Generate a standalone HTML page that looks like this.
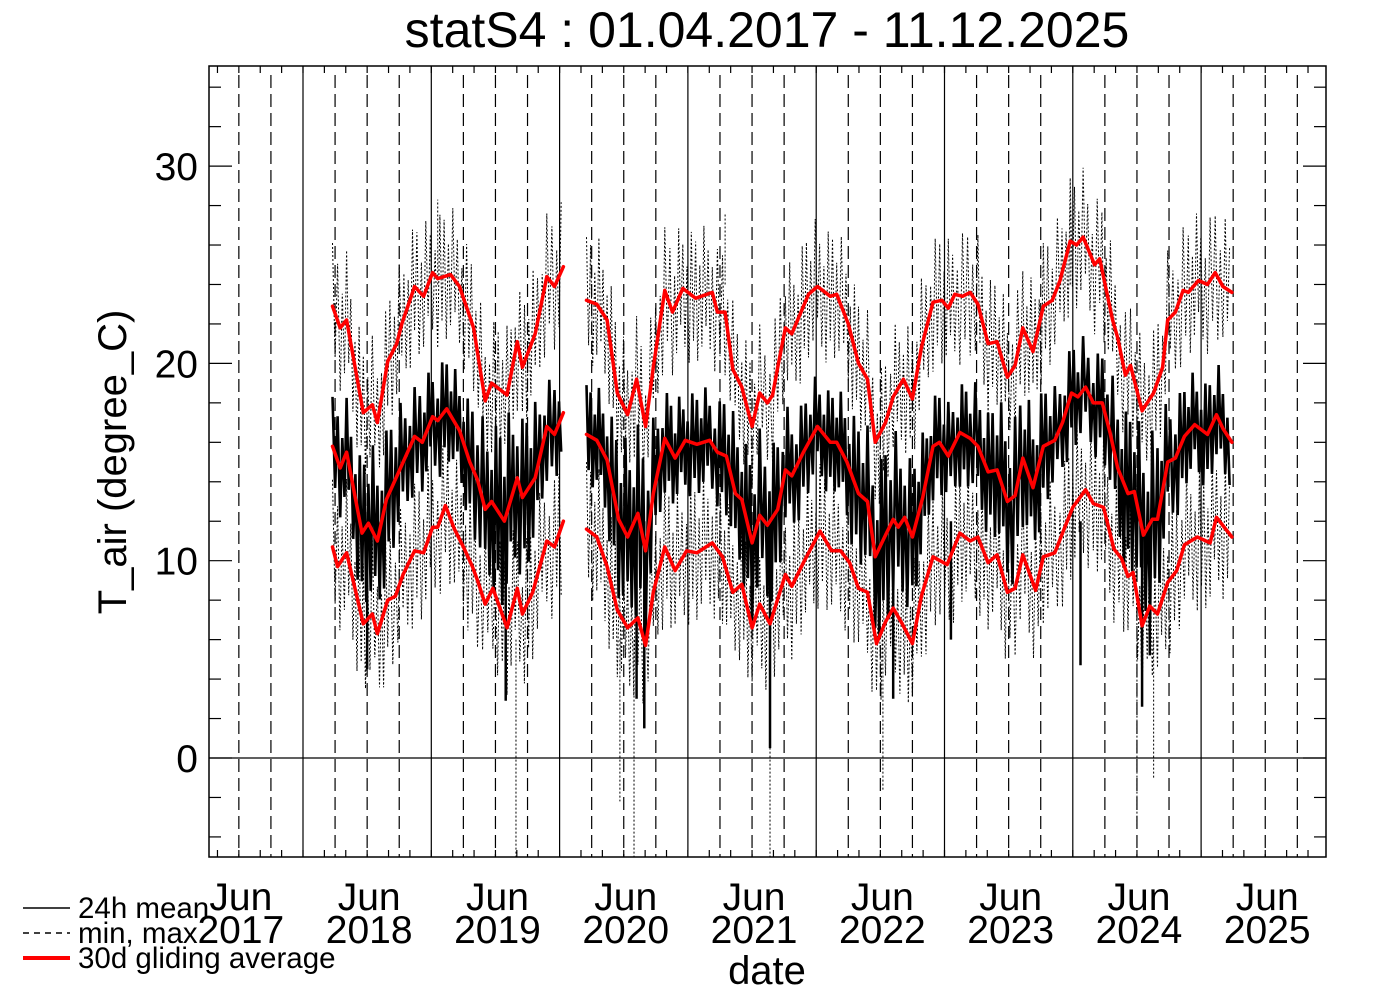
<!DOCTYPE html>
<html><head><meta charset="utf-8"><style>
html,body{margin:0;padding:0;background:#fff;}
svg{display:block;font-family:"Liberation Sans",sans-serif;}
</style></head><body>
<svg id="chart" width="1388" height="992" viewBox="0 0 1388 992" xmlns="http://www.w3.org/2000/svg">
<rect width="1388" height="992" fill="#fff"/>
<text x="767" y="47" font-size="50" text-anchor="middle">statS4 : 01.04.2017 - 11.12.2025</text>
<g id="grid"></g>
<g id="series"></g>
<rect x="209" y="66" width="1117" height="791" fill="none" stroke="#000" stroke-width="1.5"/>
<g id="ticks"></g>
<text transform="translate(126,462) rotate(-90)" font-size="40" text-anchor="middle">T_air (degree_C)</text>
<text x="767" y="984" font-size="40" text-anchor="middle">date</text>
<g>
<line x1="23" y1="908" x2="70" y2="908" stroke="#000" stroke-width="1.5"/>
<text x="78" y="918" font-size="29.5">24h mean</text>
<line x1="23" y1="933" x2="70" y2="933" stroke="#000" stroke-width="1.5" stroke-dasharray="6,5"/>
<text x="78" y="943" font-size="29.5">min, max</text>
<line x1="23" y1="958" x2="70" y2="958" stroke="#f00" stroke-width="4"/>
<text x="78" y="968" font-size="29.5">30d gliding average</text>
</g>
</svg>
<script>
// ---- data (decimal year, value) ----
const yTicks = [0, 10, 20, 30];
const xYears = [2017, 2018, 2019, 2020, 2021, 2022, 2023, 2024, 2025];
// 30d gliding average of daily mean: [t, value, daily spread]
const avgMean = [[2018.23,15.8,2.5],[2018.29,14.7,2.5],[2018.34,15.5,2.5],[2018.46,11.4,3.5],[2018.51,11.9,4],[2018.58,11.0,4],[2018.65,13.1,3.5],[2018.76,14.7,3],[2018.87,16.3,2.5],[2018.93,16.0,2.5],[2019.01,17.3,2.5],[2019.05,17.1,2.8],[2019.12,17.7,2.5],[2019.22,16.6,2.5],[2019.30,15.0,3],[2019.36,14.1,3.5],[2019.42,12.6,4],[2019.47,13.0,4],[2019.57,12.0,4.5],[2019.67,14.2,4],[2019.71,13.2,4],[2019.81,14.2,3.5],[2019.90,16.8,2.5],[2019.96,16.4,2.5],[2020.03,17.5,2],
null,
[2020.21,16.4,2.5],[2020.29,16.1,2.5],[2020.37,15.1,3],[2020.46,12.1,4],[2020.53,11.2,4.5],[2020.61,12.4,4.5],[2020.67,10.5,4.5],[2020.73,13.4,3.5],[2020.82,16.2,2.5],[2020.90,15.2,2.5],[2020.98,16.1,2.5],[2021.07,15.9,2.5],[2021.17,16.1,2.5],[2021.23,15.5,2.5],[2021.30,15.3,3],[2021.37,13.4,3.5],[2021.42,13.1,3.5],[2021.50,10.9,4],[2021.56,12.3,4],[2021.62,11.8,4],[2021.70,12.6,3.5],[2021.76,14.6,3],[2021.81,14.3,3],[2021.90,15.5,2.5],[2022.01,16.8,2.5],[2022.11,16.0,2.5],[2022.16,16.0,2.5],[2022.24,15.0,3],[2022.33,13.4,3.5],[2022.40,13.0,3.5],[2022.46,10.2,4],[2022.54,11.3,4.5],[2022.60,12.1,4.5],[2022.64,11.7,4],[2022.69,12.2,4],[2022.75,11.2,3.5],[2022.83,13.2,3],[2022.91,15.8,2.5],[2022.96,16.0,2.5],[2023.03,15.3,2.5],[2023.12,16.5,2.5],[2023.20,16.2,2.5],[2023.26,15.8,3],[2023.34,14.5,3],[2023.41,14.6,3.5],[2023.49,13.0,4],[2023.55,13.3,4],[2023.61,15.2,3.5],[2023.69,13.7,3.5],[2023.77,15.8,3],[2023.86,16.1,2.5],[2023.92,17.0,2.5],[2023.99,18.5,2.5],[2024.04,18.3,2.5],[2024.10,18.8,2.5],[2024.16,18.0,2.5],[2024.23,18.0,2.5],[2024.29,16.5,3],[2024.35,14.7,3.5],[2024.43,13.4,4],[2024.48,13.5,4],[2024.55,11.3,4.5],[2024.62,12.1,4.5],[2024.66,12.1,4],[2024.74,15.0,3],[2024.80,15.2,3],[2024.87,16.3,2.5],[2024.95,16.9,2.5],[2025.05,16.4,2.5],[2025.12,17.4,2.5],[2025.17,16.7,2.5],[2025.24,16.0,2]];
// 30d gliding average of daily maximum
const avgMax = [[2018.23,22.9],[2018.29,21.8],[2018.34,22.2],[2018.47,17.5],[2018.54,17.9],[2018.58,17.0],[2018.66,20.1],[2018.73,21.0],[2018.77,22.0],[2018.87,23.9],[2018.94,23.4],[2019.01,24.6],[2019.05,24.3],[2019.15,24.5],[2019.22,23.9],[2019.33,21.8],[2019.42,18.1],[2019.47,19.0],[2019.59,18.4],[2019.67,21.1],[2019.71,19.8],[2019.81,21.5],[2019.90,24.4],[2019.96,23.9],[2020.03,24.9],
null,
[2020.21,23.2],[2020.29,23.0],[2020.37,22.2],[2020.45,18.5],[2020.53,17.4],[2020.60,19.2],[2020.67,16.8],[2020.73,19.8],[2020.82,23.7],[2020.88,22.6],[2020.96,23.8],[2021.06,23.3],[2021.19,23.6],[2021.23,22.6],[2021.29,22.6],[2021.35,19.7],[2021.42,18.8],[2021.50,16.8],[2021.56,18.5],[2021.62,18.0],[2021.66,18.4],[2021.70,19.8],[2021.76,21.8],[2021.81,21.5],[2021.94,23.5],[2022.01,23.9],[2022.11,23.4],[2022.16,23.5],[2022.25,22.0],[2022.33,20.0],[2022.40,19.2],[2022.46,16.0],[2022.54,17.0],[2022.60,18.3],[2022.68,19.2],[2022.75,18.2],[2022.82,20.8],[2022.91,23.1],[2022.98,23.2],[2023.03,22.8],[2023.08,23.5],[2023.14,23.4],[2023.20,23.6],[2023.26,23.0],[2023.34,21.0],[2023.41,21.1],[2023.49,19.3],[2023.55,19.9],[2023.61,21.8],[2023.69,20.6],[2023.77,22.9],[2023.84,23.2],[2023.90,24.2],[2023.98,26.2],[2024.03,26.0],[2024.08,26.4],[2024.17,25.0],[2024.21,25.3],[2024.31,22.2],[2024.35,21.3],[2024.41,19.4],[2024.45,19.9],[2024.54,17.6],[2024.63,18.5],[2024.70,19.8],[2024.74,22.2],[2024.80,22.6],[2024.86,23.7],[2024.90,23.6],[2024.98,24.2],[2025.05,24.0],[2025.11,24.6],[2025.17,23.9],[2025.24,23.6]];
// 30d gliding average of daily minimum
const avgMin = [[2018.23,10.7],[2018.27,9.7],[2018.34,10.4],[2018.47,6.8],[2018.54,7.3],[2018.58,6.3],[2018.66,8.0],[2018.72,8.2],[2018.78,9.3],[2018.87,10.5],[2018.94,10.4],[2019.01,11.7],[2019.05,11.7],[2019.11,12.8],[2019.18,11.6],[2019.25,10.7],[2019.32,9.7],[2019.36,9.0],[2019.42,7.8],[2019.48,8.6],[2019.59,6.6],[2019.67,8.6],[2019.71,7.3],[2019.79,8.4],[2019.90,11.0],[2019.96,10.7],[2020.03,12.0],
null,
[2020.21,11.6],[2020.29,11.2],[2020.37,9.7],[2020.45,7.5],[2020.53,6.6],[2020.61,7.1],[2020.67,5.7],[2020.73,8.4],[2020.82,10.7],[2020.90,9.5],[2020.99,10.5],[2021.07,10.4],[2021.19,10.9],[2021.27,10.2],[2021.35,8.4],[2021.42,8.8],[2021.50,6.6],[2021.56,7.8],[2021.64,6.8],[2021.76,9.3],[2021.81,8.7],[2021.90,9.9],[2022.03,11.5],[2022.12,10.5],[2022.19,10.5],[2022.26,9.9],[2022.33,8.6],[2022.40,8.4],[2022.47,5.8],[2022.54,6.9],[2022.60,7.6],[2022.67,6.8],[2022.75,5.8],[2022.82,8.2],[2022.91,10.2],[2023.02,9.8],[2023.12,11.4],[2023.20,11.0],[2023.26,11.2],[2023.34,9.9],[2023.41,10.3],[2023.49,8.4],[2023.55,8.6],[2023.61,10.3],[2023.71,8.5],[2023.77,10.2],[2023.86,10.4],[2023.92,11.4],[2024.00,12.7],[2024.10,13.6],[2024.16,12.9],[2024.24,12.7],[2024.32,10.6],[2024.38,10.1],[2024.43,9.2],[2024.47,9.4],[2024.54,6.7],[2024.60,7.7],[2024.66,7.3],[2024.74,8.9],[2024.81,9.5],[2024.87,10.8],[2024.97,11.2],[2025.07,10.9],[2025.12,12.2],[2025.24,11.2]];
// extreme single-day values
const meanSpikes = [[2018.50,4.5],[2019.58,2.9],[2020.60,3.0],[2020.66,1.5],[2021.64,0.5],[2022.60,3.0],[2023.05,6.0],[2024.06,4.7],[2024.54,2.6],[2024.60,5.2]];
const minSpikes = [[2019.66,-5],[2020.58,-5],[2020.47,-2.2],[2021.64,-5],[2022.52,-1.7],[2024.50,-3.5],[2024.63,-1]];
const maxSpikes = [[2019.05,28.3],[2021.29,27.6],[2023.98,28.1]];

// ---- axes ----
const X0 = 303, PXY = 128.3, Y0 = 758, PXV = 19.73;
const L = 209, R = 1326, T = 66, B = 857;
function xOf(t){ return X0 + (t - 2018) * PXY; }
function yOf(v){ return Y0 - v * PXV; }
const NS = "http://www.w3.org/2000/svg";
function mk(tag, attrs, parent){ const e = document.createElementNS(NS, tag); for (const k in attrs) e.setAttribute(k, attrs[k]); parent.appendChild(e); return e; }
const grid = document.getElementById('grid'), ticks = document.getElementById('ticks'), series = document.getElementById('series');

for (let y = 2017; y <= 2026; y++) {
  for (let m = 0; m < 12; m++) {
    const t = y + m / 12;
    const x = xOf(t);
    if (x <= L + 0.5 || x >= R - 0.5) continue;
    if (m === 0) {
      const g = mk('line', {x1:x, y1:T, x2:x, y2:B, stroke:'#000', 'stroke-width':1.2}, grid);
      
      
    } else if (m % 3 === 0) {
      const g = mk('line', {x1:x, y1:75, x2:x, y2:B, stroke:'#000', 'stroke-width':1.2, 'stroke-dasharray':'13,6'}, grid);
      
      
    }
    if (m % 2 === 0) {
      const a = mk('line', {x1:x, y1:T, x2:x, y2:T+7, stroke:'#000', 'stroke-width':1.2}, ticks);
      
      
      const b = mk('line', {x1:x, y1:B, x2:x, y2:B-7, stroke:'#000', 'stroke-width':1.2}, ticks);
      
      
    }
  }
}
const zl = mk('line', {x1:L, y1:yOf(0), x2:R, y2:yOf(0), stroke:'#000', 'stroke-width':1.2}, grid);



for (let v = -4; v <= 34; v += 2) {
  const y = yOf(v);
  const major = yTicks.includes(v);
  const len = major ? 23 : 12;
  const a = mk('line', {x1:L, y1:y, x2:L+len, y2:y, stroke:'#000', 'stroke-width':1.2}, ticks);
  
  
  const b = mk('line', {x1:R, y1:y, x2:R-len, y2:y, stroke:'#000', 'stroke-width':1.2}, ticks);
  
  
}
yTicks.forEach(v => {
  const tx = mk('text', {x:198, y:yOf(v)+14, 'font-size':39, 'text-anchor':'end'}, ticks);
  tx.textContent = String(v);
  
  
});
xYears.forEach(yr => {
  const x = xOf(yr + 0.5) + 2;
  const a = mk('text', {x:x, y:910, 'font-size':39, 'text-anchor':'middle'}, ticks);
  a.textContent = 'Jun';
  
  
  const b = mk('text', {x:x, y:943, 'font-size':39, 'text-anchor':'middle'}, ticks);
  b.textContent = String(yr);
  
  
});

// ---- series ----
function segments(arr){ const out = [[]]; arr.forEach(p => { if (p === null) out.push([]); else out[out.length-1].push(p); }); return out.filter(s => s.length); }
const pattern = [1, -0.7, 0.9, -1, 0.5, -0.8, 1.1, -0.5, 0.7, -0.9, 0.4, -1.1];
function zigzag(seg, spreadOf, scale){
  const pts = []; let k = 0;
  for (let i = 0; i < seg.length - 1; i++) {
    const a = seg[i], b = seg[i+1];
    const dx = xOf(b[0]) - xOf(a[0]);
    const n = Math.max(2, Math.round(dx / 2.2));
    for (let j = 0; j < n; j++) {
      const f = j / n;
      const t = a[0] + (b[0]-a[0]) * f;
      const v = a[1] + (b[1]-a[1]) * f;
      const s = spreadOf(a) + (spreadOf(b) - spreadOf(a)) * f;
      pts.push(xOf(t).toFixed(1) + ',' + yOf(v + s * scale * pattern[k % pattern.length]).toFixed(1));
      k++;
    }
  }
  return pts.join(' ');
}
function line(seg){ return seg.map(p => xOf(p[0]).toFixed(1) + ',' + yOf(p[1]).toFixed(1)).join(' '); }

segments(avgMax).forEach(seg => {
  const p = mk('polyline', {points:zigzag(seg, q => 3.2, 1), fill:'none', stroke:'#000', 'stroke-width':1, 'stroke-dasharray':'2,2'}, series);
  
  
});
segments(avgMin).forEach(seg => {
  const p = mk('polyline', {points:zigzag(seg, q => 3.4, 1), fill:'none', stroke:'#000', 'stroke-width':1, 'stroke-dasharray':'2,2'}, series);
  
  
});
maxSpikes.concat(minSpikes).forEach(s => {
  const base = s[1] > 15 ? 24 : 6;
  const p = mk('line', {x1:xOf(s[0]), y1:yOf(base), x2:xOf(s[0]), y2:yOf(s[1]), stroke:'#000', 'stroke-width':1, 'stroke-dasharray':'2,2'}, series);
  
  
});
segments(avgMean).forEach(seg => {
  const p = mk('polyline', {points:zigzag(seg, q => q[2], 1), fill:'none', stroke:'#000', 'stroke-width':2.6}, series);
  
  
});
meanSpikes.forEach(s => {
  const p = mk('line', {x1:xOf(s[0]), y1:yOf(12), x2:xOf(s[0]), y2:yOf(s[1]), stroke:'#000', 'stroke-width':2.5}, series);
  
  
});
[[avgMax,'avg-max-line'],[avgMean,'avg-mean-line'],[avgMin,'avg-min-line']].forEach(([arr, name]) => {
  segments(arr).forEach(seg => {
    const p = mk('polyline', {points:line(seg), fill:'none', stroke:'#f00', 'stroke-width':3.5, 'stroke-linejoin':'round', 'stroke-linecap':'round'}, series);
    
    
  });
});
</script>
</body></html>
